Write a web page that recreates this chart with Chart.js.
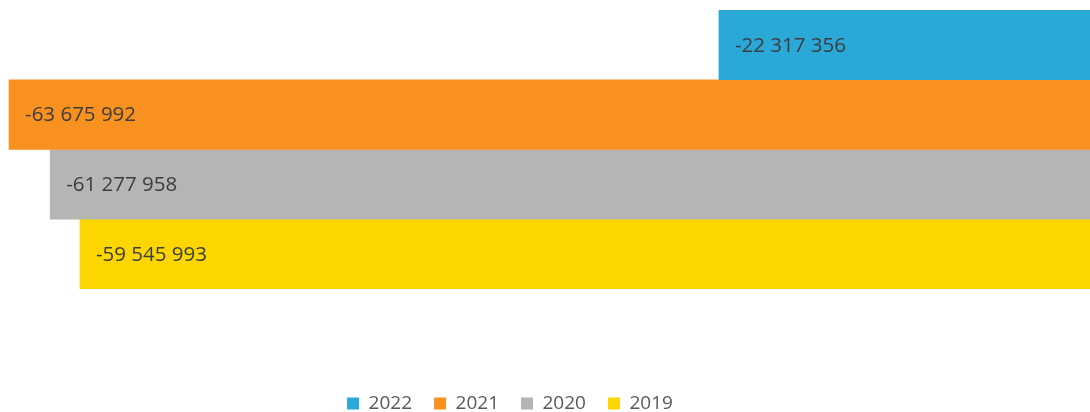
<!DOCTYPE html>
<html>
<head>
<meta charset="utf-8">
<script src="https://cdn.jsdelivr.net/npm/chart.js@4.4.0/dist/chart.umd.min.js"></script>
<style>
    html, body {
        margin: 0;
        padding: 0;
        width: 1090px;
        height: 412px;
        overflow: hidden;
        background: #ffffff;
    }
    /* zero of the value axis sits just past the right edge of the window */
    #wrap {
        position: absolute;
        left: -82px;
        top: 0;
        width: 1184px;
        height: 423px;
    }
</style>
</head>
<body>
<div id="wrap"><canvas id="chart"></canvas></div>
<script>
// data
const years = ["2022", "2021", "2020", "2019"];
const values = [-22317356, -63675992, -61277958, -59545993];
const colors = ["#2aa8d8", "#f8911f", "#b5b5b3", "#fdd600"];
const categories = [""];

// -63675992 -> "-63 675 992"
function formatValue(v) {
    const s = Math.abs(v).toString().replace(/\B(?=(\d{3})+(?!\d))/g, " ");
    return (v < 0 ? "-" : "") + s;
}

// labels inside the bars, near their left end
const barLabels = {
    id: "barLabels",
    afterDatasetsDraw(chart) {
        const ctx = chart.ctx;
        ctx.save();
        ctx.font = "20.5px 'Open Sans'";
        ctx.fillStyle = "#3d3d3d";
        ctx.textAlign = "left";
        ctx.textBaseline = "middle";
        chart.data.datasets.forEach((ds, i) => {
            const meta = chart.getDatasetMeta(i);
            meta.data.forEach((bar, j) => {
                ctx.fillText(formatValue(ds.data[j]), bar.x + 16, bar.y + 1);
            });
        });
        ctx.restore();
    }
};

const datasets = years.map((year, i) => {
    return {
        label: year,
        data: [values[i]],
        backgroundColor: colors[i],
        borderWidth: 0,
        categoryPercentage: 1,
        barPercentage: 1,
    };
});

const ctx = document.getElementById("chart").getContext("2d");

new Chart(ctx, {
    type: "bar",
    data: {
        labels: categories,
        datasets: datasets,
    },
    options: {
        indexAxis: "y",
        responsive: true,
        maintainAspectRatio: false,
        animation: false,
        layout: {
            padding: { top: 10, left: 0, right: 0, bottom: 0 },
        },
        scales: {
            x: {
                min: -68980000,
                max: 0,
                grid: { display: false },
                border: { display: false },
                ticks: { display: false },
                afterFit: (scale) => {
                    scale.height = 83;
                },
            },
            y: {
                display: false,
            },
        },
        plugins: {
            legend: {
                position: "bottom",
                labels: {
                    boxWidth: 12,
                    boxHeight: 12,
                    padding: 22,
                    color: "#595959",
                    font: { family: "'Open Sans'", size: 19 },
                },
            },
            tooltip: { enabled: false },
        },
    },
    plugins: [barLabels],
});
</script>
</body>
</html>
